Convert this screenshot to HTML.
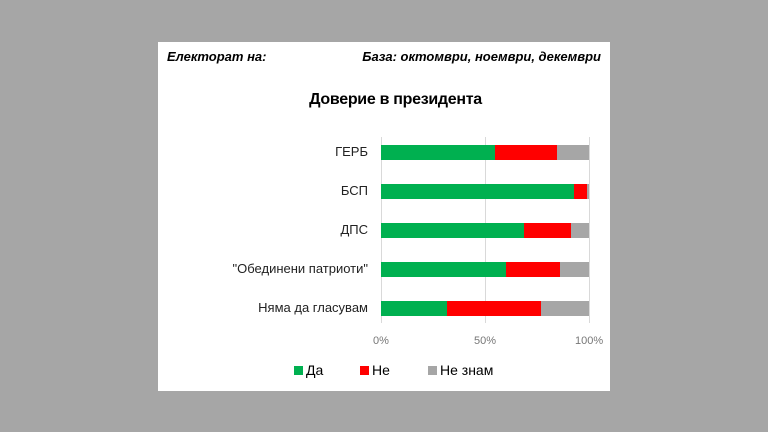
<!DOCTYPE html>
<html><head><meta charset="utf-8"><style>
body{margin:0;width:768px;height:432px;background:#a6a6a6;position:relative;overflow:hidden;font-family:"Liberation Sans","DejaVu Sans",sans-serif}
.p{position:absolute;left:158px;top:42px;width:452px;height:349px;background:#fff}
.a{position:absolute;white-space:nowrap}
.g{position:absolute;top:137px;width:1px;height:186px;background:#d9d9d9}
.b{position:absolute;height:15px}
.l{position:absolute;right:400px;font-size:13px;color:#222;text-align:right}
.t{position:absolute;top:335px;font-size:11px;color:#777}
.sq{display:inline-block;width:9px;height:9px;margin-right:3px}
</style></head><body>
<div class="p"></div>
<div class="a" style="left:167px;top:49px;font-size:13px;font-style:italic;font-weight:bold">Електорат на:</div>
<div class="a" style="right:167px;top:49px;font-size:13px;font-style:italic;font-weight:bold">База: октомври, ноември, декември</div>
<div class="a" style="left:305px;width:181px;text-align:center;top:91px;font-size:16px;font-weight:bold;letter-spacing:-0.3px">Доверие в президента</div>
<div class="g" style="left:381px"></div><div class="g" style="left:485px"></div><div class="g" style="left:589px"></div>

<div class="l" style="top:144px">ГЕРБ</div>
<div class="b" style="top:145px;left:381px;width:114px;background:#00b050"></div>
<div class="b" style="top:145px;left:495px;width:62px;background:#f00"></div>
<div class="b" style="top:145px;left:557px;width:32px;background:#a6a6a6"></div>

<div class="l" style="top:183px">БСП</div>
<div class="b" style="top:184px;left:381px;width:193px;background:#00b050"></div>
<div class="b" style="top:184px;left:574px;width:13px;background:#f00"></div>
<div class="b" style="top:184px;left:587px;width:2px;background:#a6a6a6"></div>

<div class="l" style="top:222px">ДПС</div>
<div class="b" style="top:223px;left:381px;width:143px;background:#00b050"></div>
<div class="b" style="top:223px;left:524px;width:47px;background:#f00"></div>
<div class="b" style="top:223px;left:571px;width:18px;background:#a6a6a6"></div>

<div class="l" style="top:261px">"Обединени  патриоти"</div>
<div class="b" style="top:262px;left:381px;width:125px;background:#00b050"></div>
<div class="b" style="top:262px;left:506px;width:54px;background:#f00"></div>
<div class="b" style="top:262px;left:560px;width:29px;background:#a6a6a6"></div>

<div class="l" style="top:300px">Няма да гласувам</div>
<div class="b" style="top:301px;left:381px;width:66px;background:#00b050"></div>
<div class="b" style="top:301px;left:447px;width:94px;background:#f00"></div>
<div class="b" style="top:301px;left:541px;width:48px;background:#a6a6a6"></div>

<div class="t" style="left:373px">0%</div>
<div class="t" style="left:474px">50%</div>
<div class="t" style="left:575px">100%</div>

<div class="a" style="left:294px;top:362px;font-size:14px"><span class="sq" style="background:#00b050"></span>Да</div>
<div class="a" style="left:360px;top:362px;font-size:14px"><span class="sq" style="background:#f00"></span>Не</div>
<div class="a" style="left:428px;top:362px;font-size:14px"><span class="sq" style="background:#a6a6a6"></span>Не знам</div>
</body></html>
